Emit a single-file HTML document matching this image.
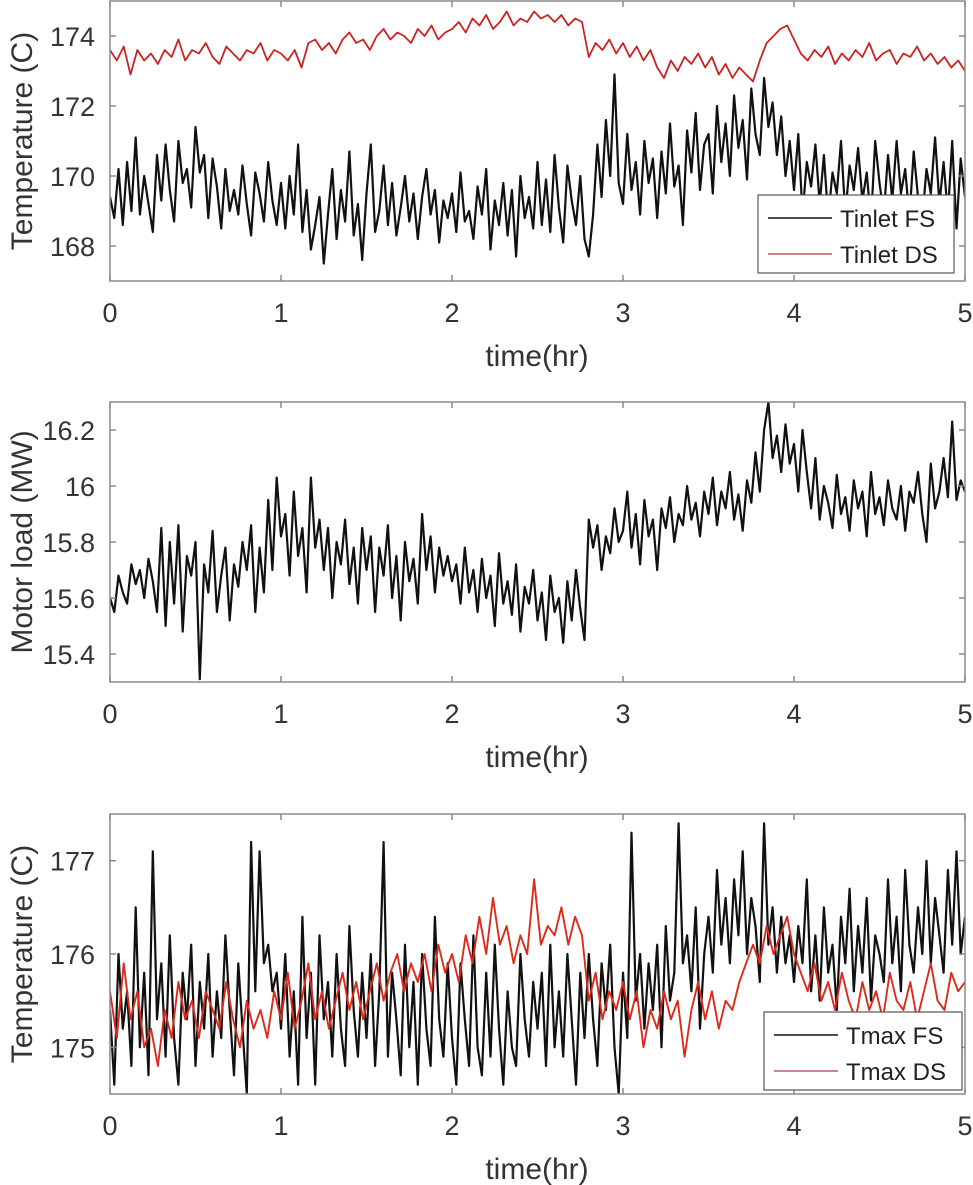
<!DOCTYPE html>
<html><head><meta charset="utf-8"><style>
html,body{margin:0;padding:0;background:#fff;}
svg{display:block;font-family:"Liberation Sans",Arial,sans-serif;}
</style></head><body>
<svg id="chart" width="973" height="1185" viewBox="0 0 973 1185" xmlns="http://www.w3.org/2000/svg"></svg>
<script>
const xTicks = [0,1,2,3,4,5];
const tinletTicks = [168,170,172,174];
const loadTicks = [15.4,15.6,15.8,16,16.2];
const tmaxTicks = [175,176,177];
const tinletFS = [169.4,168.8,170.2,168.6,170.4,169.0,171.1,168.9,170.0,169.2,168.4,170.6,169.3,170.9,169.6,168.7,171.0,169.8,170.2,169.1,
171.4,170.1,170.6,168.8,170.5,169.7,168.5,170.2,169.0,169.6,168.9,170.3,169.2,168.3,170.1,169.5,168.7,170.4,169.3,168.6,
169.8,168.5,170.0,168.9,170.9,168.4,169.6,167.9,168.6,169.4,167.5,168.9,170.2,168.2,169.6,168.7,170.7,168.3,169.2,167.6,
169.5,170.9,168.4,169.0,170.3,168.6,169.8,168.3,169.1,170.0,168.7,169.5,168.2,169.4,170.2,168.9,169.6,168.1,169.3,168.8,
169.5,168.4,170.1,168.7,169.0,168.2,169.7,168.9,170.2,167.9,169.3,168.6,169.8,168.3,169.6,167.7,170.0,168.8,169.4,168.5,
170.4,168.6,169.9,168.4,170.6,169.1,168.1,170.3,169.3,168.6,170.0,168.2,167.7,168.9,170.9,169.4,171.6,170.0,172.9,169.8,
169.2,171.2,169.6,170.4,168.9,171.0,169.8,170.5,168.8,170.7,169.5,171.5,169.7,170.3,168.6,171.3,170.1,171.8,169.6,170.9,
171.2,169.5,172.0,170.4,171.5,170.0,172.3,170.8,171.6,169.9,172.5,171.2,170.6,172.8,171.4,172.1,170.6,171.7,170.0,171.0,
169.6,171.2,168.9,170.4,169.7,170.9,169.2,170.6,168.8,170.1,169.5,171.0,168.9,170.3,169.6,170.8,169.3,170.1,168.7,171.0,
169.8,168.9,170.6,169.3,171.0,169.5,170.2,168.8,170.7,169.4,168.8,170.2,169.5,171.1,169.2,170.4,168.9,171.0,168.5,170.5,169.4];
const tinletDS = [173.6,173.3,173.7,172.9,173.6,173.3,173.5,173.2,173.6,173.4,173.9,173.3,173.6,173.5,173.8,173.4,173.2,173.7,173.5,173.3,173.6,173.5,173.8,173.3,173.6,
173.5,173.3,173.6,173.1,173.8,173.9,173.6,173.8,173.5,173.9,174.1,173.8,173.9,173.6,174.0,174.2,173.9,174.1,174.0,173.8,174.2,174.0,174.3,173.9,174.1,
174.2,174.4,174.1,174.5,174.3,174.6,174.2,174.4,174.7,174.3,174.5,174.4,174.7,174.5,174.6,174.4,174.6,174.3,174.5,174.4,173.4,173.8,173.6,173.9,173.5,
173.8,173.4,173.7,173.3,173.6,173.1,172.8,173.3,173.0,173.4,173.2,173.5,173.1,173.4,172.9,173.2,172.8,173.1,172.9,172.7,173.3,173.8,174.0,174.2,174.3,
173.9,173.5,173.3,173.6,173.4,173.7,173.2,173.5,173.3,173.6,173.4,173.8,173.3,173.5,173.6,173.2,173.5,173.4,173.7,173.3,173.5,173.2,173.4,173.1,173.3,173.0];
const motorLoad = [15.60,15.55,15.68,15.62,15.58,15.72,15.65,15.70,15.60,15.74,15.66,15.55,15.85,15.50,15.80,15.58,15.86,15.48,15.75,15.68,
15.80,15.31,15.72,15.62,15.84,15.55,15.68,15.78,15.52,15.72,15.64,15.80,15.70,15.86,15.55,15.78,15.62,15.95,15.70,16.03,
15.82,15.90,15.68,15.98,15.75,15.85,15.62,16.03,15.78,15.88,15.70,15.85,15.60,15.80,15.72,15.88,15.65,15.78,15.58,15.85,
15.70,15.82,15.55,15.78,15.68,15.86,15.60,15.75,15.52,15.80,15.66,15.74,15.58,15.90,15.70,15.82,15.62,15.78,15.68,15.75,
15.66,15.72,15.58,15.78,15.62,15.70,15.55,15.74,15.60,15.68,15.50,15.76,15.58,15.66,15.54,15.72,15.48,15.64,15.58,15.70,
15.52,15.62,15.45,15.68,15.55,15.60,15.44,15.66,15.52,15.70,15.56,15.45,15.88,15.78,15.86,15.70,15.82,15.76,15.92,15.80,
15.84,15.98,15.78,15.90,15.72,15.95,15.82,15.88,15.70,15.92,15.85,15.96,15.80,15.90,15.86,16.00,15.88,15.94,15.82,15.98,
15.90,16.03,15.86,15.98,15.92,16.05,15.88,15.97,15.84,16.02,15.94,16.12,15.98,16.20,16.30,16.10,16.18,16.05,16.22,16.08,
16.15,15.98,16.20,16.05,15.92,16.10,15.88,16.00,15.94,15.85,16.04,15.90,15.96,15.84,16.02,15.92,15.98,15.82,16.05,15.90,
15.96,15.86,16.02,15.92,15.88,16.00,15.84,15.98,15.94,16.05,15.90,15.80,16.08,15.92,15.98,16.10,15.96,16.23,15.95,16.02,15.98];
const tmaxFS = [175.4,174.6,176.0,175.2,175.6,174.8,176.5,175.0,175.8,174.7,177.1,175.3,175.9,174.9,176.2,175.1,174.6,175.8,175.3,176.1,
174.8,175.7,175.2,176.0,174.9,175.6,175.1,176.2,175.4,174.7,175.9,175.2,174.5,177.2,175.6,177.1,175.9,176.1,175.6,175.8,
175.2,176.0,174.9,175.6,174.6,176.4,175.1,175.8,174.6,176.2,175.3,175.7,174.9,176.0,175.2,174.8,176.3,175.4,174.9,175.8,
175.1,176.0,174.8,175.6,177.2,174.9,175.8,175.3,174.7,176.1,175.0,175.7,174.6,176.0,175.2,174.8,176.4,175.3,174.9,175.9,
175.1,174.6,175.9,175.3,174.8,176.2,175.0,174.7,175.8,174.9,176.1,175.2,174.6,175.6,175.0,174.8,176.0,175.3,174.9,175.7,
175.2,175.8,174.8,176.1,175.0,175.6,174.9,176.0,175.3,174.6,175.8,175.1,176.0,175.3,174.8,175.9,175.4,176.1,175.0,174.5,
175.8,175.1,177.3,175.5,176.0,175.2,175.9,175.4,176.1,175.0,176.3,175.5,175.8,177.4,175.9,176.2,175.6,176.5,175.2,176.0,
176.4,175.8,176.9,176.1,176.6,175.9,176.8,176.2,177.1,176.0,176.6,176.3,175.7,177.4,176.1,176.5,175.8,176.4,175.9,176.2,
175.7,176.3,175.9,176.8,175.6,176.2,175.5,176.5,175.8,176.1,175.4,176.4,175.9,176.7,175.6,176.3,175.8,176.6,175.5,176.2,
176.0,175.7,176.8,175.9,176.4,175.6,176.9,176.1,175.8,176.5,176.0,177.0,175.9,176.6,176.2,175.8,176.9,176.1,177.1,176.0,176.4];
const tmaxDS = [175.6,175.1,175.9,175.3,175.6,175.0,175.2,174.8,175.4,175.1,175.7,175.3,175.5,175.1,175.6,175.4,175.2,175.7,175.3,175.0,175.5,175.2,175.4,175.1,175.6,
175.3,175.8,175.2,175.5,175.9,175.3,175.6,175.2,175.5,175.8,175.4,175.7,175.3,175.6,175.9,175.5,175.8,176.0,175.6,175.9,175.7,176.0,175.6,176.1,175.8,
176.0,175.7,176.2,175.9,176.4,176.0,176.6,176.1,176.3,175.9,176.2,176.0,176.8,176.1,176.3,176.2,176.5,176.1,176.4,176.2,175.5,175.8,175.3,175.6,175.4,
175.7,175.3,175.6,175.0,175.4,175.2,175.6,175.3,175.5,174.9,175.4,175.7,175.3,175.6,175.2,175.5,175.4,175.7,175.9,176.1,175.9,176.3,176.0,176.2,176.4,
176.0,175.8,175.6,175.9,175.5,175.7,175.4,175.8,175.5,175.3,175.7,175.4,175.6,175.3,175.8,175.5,175.4,175.7,175.3,175.6,175.9,175.5,175.4,175.8,175.6,175.7];

const NS = 'http://www.w3.org/2000/svg';
const svg = document.getElementById('chart');
const L = 110, R = 965, H = 280, TMAX = 5;
function mk(tag, attrs, parent) {
  const e = document.createElementNS(NS, tag);
  for (const k in attrs) e.setAttribute(k, attrs[k]);
  (parent || svg).appendChild(e);
  return e;
}
function xScale(t) { return L + (t / TMAX) * (R - L); }

function panel(cfg) {
  const top = cfg.top, bot = top + H;
  const g = mk('g', {});
  
  
  const y = v => bot - (v - cfg.ymin) / (cfg.ymax - cfg.ymin) * H;
  const cid = 'clip-' + cfg.name;
  const cp = mk('clipPath', { id: cid }, g);
  mk('rect', { x: L, y: top, width: R - L, height: H }, cp);
  mk('rect', { x: L, y: top, width: R - L, height: H, fill: '#fff' }, g);
  const sg = mk('g', { 'clip-path': 'url(#' + cid + ')' }, g);
  cfg.series.forEach(s => {
    const n = s.data.length;
    const pts = s.data.map((v, i) => xScale(i * TMAX / (n - 1)).toFixed(1) + ',' + y(v).toFixed(1)).join(' ');
    const pl = mk('polyline', { points: pts, fill: 'none', stroke: s.color, 'stroke-width': s.w, 'stroke-linejoin': 'round' }, sg);
    
    
  });
  const box = mk('rect', { x: L, y: top, width: R - L, height: H, fill: 'none', stroke: '#8a8a8a', 'stroke-width': 1.5 }, g);
  
  
  xTicks.forEach(t => {
    const x = xScale(t);
    mk('line', { x1: x, y1: bot, x2: x, y2: bot - 6, stroke: '#8a8a8a', 'stroke-width': 1.5 }, g);
    mk('line', { x1: x, y1: top, x2: x, y2: top + 6, stroke: '#8a8a8a', 'stroke-width': 1.5 }, g);
    const tl = mk('text', { x: x, y: bot + 41, 'font-size': 27, fill: '#333', 'text-anchor': 'middle' }, g);
    tl.textContent = t;
    
    
  });
  cfg.ticks.forEach(v => {
    const yy = y(v);
    mk('line', { x1: L, y1: yy, x2: L + 6, y2: yy, stroke: '#8a8a8a', 'stroke-width': 1.5 }, g);
    mk('line', { x1: R, y1: yy, x2: R - 6, y2: yy, stroke: '#8a8a8a', 'stroke-width': 1.5 }, g);
    const tl = mk('text', { x: 95, y: yy + 10, 'font-size': 27, fill: '#333', 'text-anchor': 'end' }, g);
    tl.textContent = v;
    
    
  });
  const xl = mk('text', { x: 537, y: bot + 85, 'font-size': 30, fill: '#333', 'text-anchor': 'middle' }, g);
  xl.textContent = 'time(hr)';
  
  
  const cy = top + H / 2;
  const yl = mk('text', { x: 0, y: 0, 'font-size': 30, fill: '#333', 'text-anchor': 'middle', transform: 'translate(32,' + cy + ') rotate(-90)' }, g);
  yl.textContent = cfg.ylabel;
  
  
  if (cfg.legend) {
    const lg = cfg.legend;
    const lgG = mk('g', {}, g);
    
    
    mk('rect', { x: lg.x, y: lg.y, width: lg.w, height: lg.h, fill: '#fff', stroke: '#555', 'stroke-width': 1.2 }, lgG);
    lg.items.forEach((it, i) => {
      const ry = lg.y + 23 + i * 36;
      const ln = mk('line', { x1: lg.x + 10, y1: ry, x2: lg.x + 74, y2: ry, stroke: it.color, 'stroke-width': 1.5 }, lgG);
      
      
      const tx = mk('text', { x: lg.x + 82, y: ry + 9, 'font-size': 24, fill: '#222' }, lgG);
      tx.textContent = it.label;
      
      
    });
  }
}

panel({ name: 'tinlet-panel', top: 1, ymin: 167, ymax: 175, ticks: tinletTicks, ylabel: 'Temperature (C)',
  series: [{ name: 'tinlet-fs-line', data: tinletFS, color: '#111', w: 2.2 }, { name: 'tinlet-ds-line', data: tinletDS, color: '#cc2222', w: 1.8 }],
  legend: { x: 758, y: 195, w: 196, h: 78, items: [{ label: 'Tinlet FS', color: '#111' }, { label: 'Tinlet DS', color: '#b06060' }] } });
panel({ name: 'motor-load-panel', top: 402, ymin: 15.3, ymax: 16.3, ticks: loadTicks, ylabel: 'Motor load (MW)',
  series: [{ name: 'motor-load-line', data: motorLoad, color: '#111', w: 2.2 }] });
panel({ name: 'tmax-panel', top: 814, ymin: 174.5, ymax: 177.5, ticks: tmaxTicks, ylabel: 'Temperature (C)',
  series: [{ name: 'tmax-fs-line', data: tmaxFS, color: '#111', w: 2.2 }, { name: 'tmax-ds-line', data: tmaxDS, color: '#dd2a1a', w: 1.9 }],
  legend: { x: 764, y: 1012, w: 198, h: 78, items: [{ label: 'Tmax FS', color: '#111' }, { label: 'Tmax DS', color: '#b06060' }] } });
</script>
</body></html>
